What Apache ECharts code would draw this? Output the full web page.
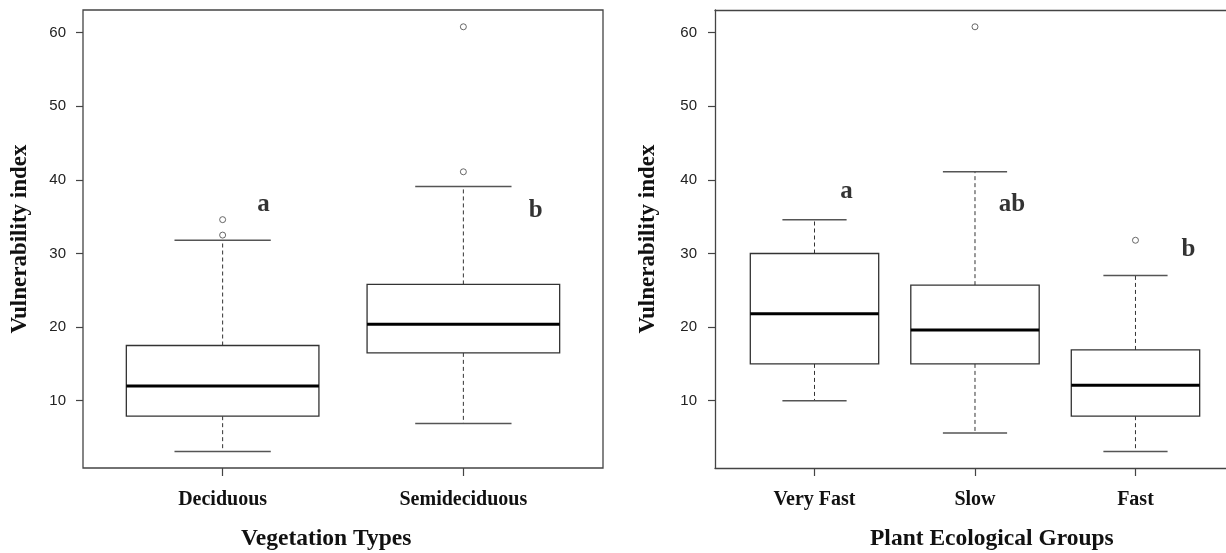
<!DOCTYPE html>
<html>
<head>
<meta charset="utf-8">
<script src="https://cdn.jsdelivr.net/npm/echarts@6/dist/echarts.min.js"></script>
<style>
  html, body { margin: 0; padding: 0; background: #fff; }
  #main { width: 1226px; height: 553px; }
</style>
</head>
<body>
<div id="main"></div>
<script>
// 数据：箱线图五数（min, Q1, median, Q3, max）
var vegTypes = ['Deciduous', 'Semideciduous'];
var vegBoxes = [
    [3.1, 7.9, 12.0, 17.5, 31.8],
    [6.9, 16.5, 20.4, 25.8, 39.1]
];
var vegOutliers = [[1, 34.6], [1, 32.5], [2, 41.1], [2, 60.8]];
var vegLetters = ['a', 'b'];
var vegLetterPos = [[1.17, 36.7], [2.30, 35.8]];

var groupTypes = ['Very Fast', 'Slow', 'Fast'];
var groupBoxes = [
    [10.0, 15.0, 21.8, 30.0, 34.6],
    [5.6, 15.0, 19.6, 25.7, 41.1],
    [3.1, 7.9, 12.1, 16.9, 27.0]
];
var groupOutliers = [[2, 60.8], [3, 31.8]];
var groupLetters = ['a', 'ab', 'b'];
var groupLetterPos = [[1.20, 38.4], [2.23, 36.6], [3.33, 30.5]];

var yTicks = [10, 20, 30, 40, 50, 60];

var serif = 'Liberation Serif';
var sans = 'Liberation Sans';
var frameColor = '#444';

// 把五数转为 custom 系列的数据行
function toRows(boxes) {
    var rows = [];
    for (var i = 0; i < boxes.length; i++) {
        rows.push([i + 1].concat(boxes[i]));
    }
    return rows;
}

function renderBox(params, api) {
    var x = api.value(0);
    var mn = api.value(1), q1 = api.value(2), md = api.value(3), q3 = api.value(4), mx = api.value(5);
    var boxL = api.coord([x - 0.4, q3]);
    var boxR = api.coord([x + 0.4, q1]);
    var capL = api.coord([x - 0.2, mx])[0];
    var capR = api.coord([x + 0.2, mx])[0];
    var cx = api.coord([x, md])[0];
    var yMin = api.coord([x, mn])[1];
    var yMax = api.coord([x, mx])[1];
    var yMed = api.coord([x, md])[1];
    var dash = { stroke: '#333', lineWidth: 1, lineDash: [4, 3] };
    var cap = { stroke: '#555', lineWidth: 1.5 };
    return {
        type: 'group',
        children: [
            { type: 'line', shape: { x1: cx, y1: boxL[1], x2: cx, y2: yMax }, style: dash },
            { type: 'line', shape: { x1: cx, y1: boxR[1], x2: cx, y2: yMin }, style: dash },
            { type: 'line', shape: { x1: capL, y1: yMax, x2: capR, y2: yMax }, style: cap },
            { type: 'line', shape: { x1: capL, y1: yMin, x2: capR, y2: yMin }, style: cap },
            { type: 'rect', shape: { x: boxL[0], y: boxL[1], width: boxR[0] - boxL[0], height: boxR[1] - boxL[1] },
              style: { fill: '#fff', stroke: '#333', lineWidth: 1.3 } },
            { type: 'line', shape: { x1: boxL[0], y1: yMed, x2: boxR[0], y2: yMed },
              style: { stroke: '#000', lineWidth: 3 } }
        ]
    };
}

function xAxisFor(idx, cats, mn, mx, showLine) {
    return {
        type: 'value', gridIndex: idx, min: mn, max: mx,
        splitLine: { show: false },
        axisLine: { show: showLine, lineStyle: { color: frameColor, width: 1.3 } },
        axisTick: { show: true, length: 8, customValues: cats.map(function (c, i) { return i + 1; }),
                    lineStyle: { color: '#444', width: 1.2 } },
        axisLabel: {
            customValues: cats.map(function (c, i) { return i + 1; }),
            formatter: function (v) { return cats[Math.round(v) - 1]; },
            margin: 22, color: '#111', fontFamily: serif, fontWeight: 'bold', fontSize: 20
        }
    };
}

// 顶部边框线（只画轴线）
function topLineFor(idx, mn, mx) {
    return {
        type: 'value', gridIndex: idx, position: 'top', min: mn, max: mx,
        splitLine: { show: false }, axisTick: { show: false }, axisLabel: { show: false },
        axisLine: { show: true, lineStyle: { color: frameColor, width: 1.3 } }
    };
}

function yAxisFor(idx, gap, margin, showLine) {
    return {
        type: 'value', gridIndex: idx, min: 0.86, max: 63.08,
        name: 'Vulnerability index', nameLocation: 'middle', nameGap: gap,
        nameTextStyle: { fontFamily: serif, fontWeight: 'bold', fontSize: 23, color: '#111' },
        splitLine: { show: false },
        axisLine: { show: showLine, lineStyle: { color: frameColor, width: 1.3 } },
        axisTick: { show: true, length: 7, customValues: yTicks, lineStyle: { color: '#444', width: 1.2 } },
        axisLabel: { customValues: yTicks, margin: margin, color: '#222', fontFamily: sans, fontSize: 15 }
    };
}

function letterData(letters, pos) {
    return letters.map(function (l, i) { return { name: l, value: pos[i] }; });
}

var letterLabel = {
    show: true, position: 'inside', formatter: '{b}',
    fontFamily: serif, fontWeight: 'bold', fontSize: 25, color: '#000'
};
var outlierStyle = { color: '#fff', borderColor: '#444', borderWidth: 1 };

var myChart = echarts.init(document.getElementById('main'));
var option = {
    animation: false,
    backgroundColor: '#fff',
    grid: [
        { left: 83, top: 10, width: 520, height: 458, show: true, borderColor: frameColor, borderWidth: 1.3, backgroundColor: 'transparent' },
        { left: 715, top: 10, width: 511, height: 458 }
    ],
    xAxis: [
        xAxisFor(0, vegTypes, 0.42, 2.58, false),
        xAxisFor(1, groupTypes, 0.38, 3.564, true),
        topLineFor(1, 0.38, 3.564)
    ],
    yAxis: [
        yAxisFor(0, 51, 17, false),
        yAxisFor(1, 55, 18, true)
    ],
    graphic: [
        { type: 'text', left: 241, top: 527, style: { text: 'Vegetation Types', font: 'bold 23.5px "Liberation Serif"', fill: '#111' } },
        { type: 'text', left: 870, top: 527, style: { text: 'Plant Ecological Groups', font: 'bold 23.5px "Liberation Serif"', fill: '#111' } }
    ],
    series: [
        { type: 'custom', xAxisIndex: 0, yAxisIndex: 0, renderItem: renderBox,
          encode: { x: 0, y: [1, 2, 3, 4, 5] }, data: toRows(vegBoxes) },
        { type: 'custom', xAxisIndex: 1, yAxisIndex: 1, renderItem: renderBox,
          encode: { x: 0, y: [1, 2, 3, 4, 5] }, data: toRows(groupBoxes) },
        { type: 'scatter', xAxisIndex: 0, yAxisIndex: 0, symbol: 'circle', symbolSize: 6,
          itemStyle: outlierStyle, data: vegOutliers },
        { type: 'scatter', xAxisIndex: 1, yAxisIndex: 1, symbol: 'circle', symbolSize: 6,
          itemStyle: outlierStyle, data: groupOutliers },
        { type: 'scatter', xAxisIndex: 0, yAxisIndex: 0, symbolSize: 0, label: letterLabel,
          data: letterData(vegLetters, vegLetterPos) },
        { type: 'scatter', xAxisIndex: 1, yAxisIndex: 1, symbolSize: 0, label: letterLabel,
          data: letterData(groupLetters, groupLetterPos) }
    ]
};
myChart.setOption(option);
</script>
</body>
</html>
